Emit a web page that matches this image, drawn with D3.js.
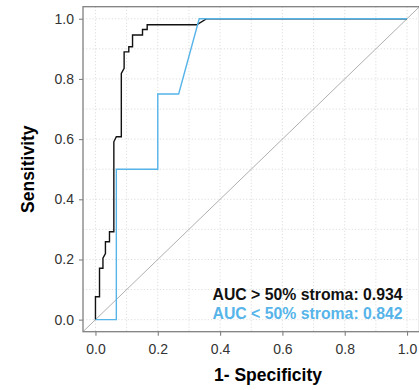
<!DOCTYPE html>
<html>
<head>
<meta charset="utf-8">
<script src="https://cdn.jsdelivr.net/npm/d3@7"></script>
<style>
  body { margin: 0; background: #fff; }
  svg { display: block; font-family: "Liberation Sans", Arial, sans-serif; }
</style>
</head>
<body>
<div class="container"></div>
<script>
// ROC curve for > 50% stroma (1 - specificity, sensitivity)
const highFpr = [0, 0, 0.013, 0.013, 0.024, 0.024, 0.032, 0.032, 0.045, 0.045, 0.059, 0.059, 0.067, 0.083, 0.083, 0.092, 0.092, 0.107, 0.107, 0.119, 0.119, 0.151, 0.151, 0.166, 0.166, 0.325, 0.357, 1];
const highTpr = [0, 0.076, 0.076, 0.171, 0.171, 0.204, 0.22, 0.259, 0.259, 0.292, 0.292, 0.591, 0.608, 0.608, 0.818, 0.835, 0.89, 0.89, 0.907, 0.907, 0.946, 0.946, 0.964, 0.964, 0.98, 0.98, 1, 1];
// ROC curve for < 50% stroma
const lowFpr = [0, 0.067, 0.067, 0.2, 0.2, 0.267, 0.333, 1];
const lowTpr = [0, 0, 0.5, 0.5, 0.75, 0.75, 1, 1];

const xTicks = [0, 0.2, 0.4, 0.6, 0.8, 1.0];
const yTicks = [0, 0.2, 0.4, 0.6, 0.8, 1.0];
const gridTicks = [0, 0.1, 0.2, 0.3, 0.4, 0.5, 0.6, 0.7, 0.8, 0.9, 1.0];

const labels = ["AUC > 50% stroma: 0.934", "AUC < 50% stroma: 0.842"];
const colors = ["#111111", "#56B4E9"];

const width = 419;
const height = 390;
const panel = { left: 83, right: 419.5, top: 6.7, bottom: 331.7 };

const svg = d3.select(".container").append("svg")
  .attr("width", width)
  .attr("height", height);

const x = d3.scaleLinear()
  .domain([-0.04, 1.04])
  .range([panel.left, panel.right]);

const y = d3.scaleLinear()
  .domain([-0.04, 1.04])
  .range([panel.bottom, panel.top]);

svg.append("clipPath")
  .attr("id", "clip")
  .append("rect")
  .attr("x", panel.left)
  .attr("y", panel.top)
  .attr("width", panel.right - panel.left)
  .attr("height", panel.bottom - panel.top);

// dotted grid
const grid = svg.append("g").attr("stroke", "#d6d6d6").attr("stroke-width", 0.8).attr("stroke-dasharray", "1.2,2");
grid.selectAll(".gx")
  .data(gridTicks)
  .enter()
  .append("line")
  .attr("x1", d => x(d))
  .attr("x2", d => x(d))
  .attr("y1", panel.top)
  .attr("y2", panel.bottom);
grid.selectAll(".gy")
  .data(gridTicks)
  .enter()
  .append("line")
  .attr("x1", panel.left)
  .attr("x2", panel.right)
  .attr("y1", d => y(d))
  .attr("y2", d => y(d));

// reference diagonal
svg.append("line")
  .attr("clip-path", "url(#clip)")
  .attr("x1", x(-0.04))
  .attr("y1", y(-0.04))
  .attr("x2", x(1.04))
  .attr("y2", y(1.04))
  .attr("stroke", "#a6a6a6")
  .attr("stroke-width", 0.9);

const line = d3.line()
  .x(d => x(d[0]))
  .y(d => y(d[1]));

const curves = [d3.zip(highFpr, highTpr), d3.zip(lowFpr, lowTpr)];

svg.append("g")
  .selectAll("path")
  .data(curves)
  .enter()
  .append("path")
  .attr("d", line)
  .attr("fill", "none")
  .attr("stroke", (d, i) => colors[i])
  .attr("stroke-width", 1.4);

// panel border
svg.append("rect")
  .attr("x", panel.left)
  .attr("y", panel.top)
  .attr("width", panel.right - panel.left)
  .attr("height", panel.bottom - panel.top)
  .attr("fill", "none")
  .attr("stroke", "#808080")
  .attr("stroke-width", 1.3);

// axes
const xAxis = svg.append("g")
  .attr("transform", `translate(0,${panel.bottom})`)
  .call(d3.axisBottom(x).tickValues(xTicks).tickFormat(d3.format(".1f")).tickSize(4).tickSizeOuter(0).tickPadding(8));

const yAxis = svg.append("g")
  .attr("transform", `translate(${panel.left},0)`)
  .call(d3.axisLeft(y).tickValues(yTicks).tickFormat(d3.format(".1f")).tickSize(4).tickSizeOuter(0).tickPadding(5));

[xAxis, yAxis].forEach(a => {
  a.select(".domain").remove();
  a.selectAll(".tick line").attr("stroke", "#808080").attr("stroke-width", 1.1);
  a.selectAll(".tick text")
    .attr("fill", "#333333")
    .attr("font-size", 14)
    .attr("font-family", "Liberation Sans, Arial, sans-serif");
});

// axis titles
svg.append("text")
  .attr("x", 268)
  .attr("y", 381)
  .attr("text-anchor", "middle")
  .attr("font-size", 17.5)
  .attr("font-weight", "bold")
  .attr("fill", "#000")
  .text("1- Specificity");

svg.append("text")
  .attr("transform", `translate(34,${(panel.top + panel.bottom) / 2}) rotate(-90)`)
  .attr("text-anchor", "middle")
  .attr("font-size", 17.5)
  .attr("font-weight", "bold")
  .attr("fill", "#000")
  .text("Sensitivity");

// AUC annotations
svg.append("g")
  .selectAll("text")
  .data(labels)
  .enter()
  .append("text")
  .attr("x", 212.5)
  .attr("y", (d, i) => 299.5 + i * 19.5)
  .attr("font-size", 15.8)
  .attr("font-weight", "bold")
  .attr("fill", (d, i) => colors[i])
  .text(d => d);
</script>
</body>
</html>
